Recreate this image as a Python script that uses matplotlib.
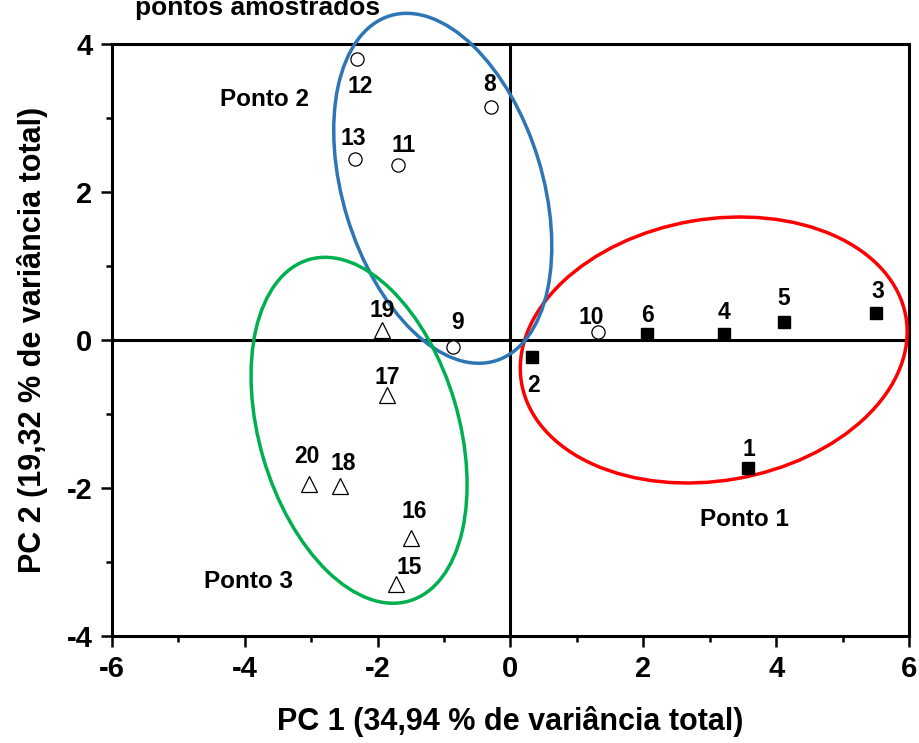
import matplotlib
matplotlib.use("Agg")
import matplotlib.pyplot as plt
from matplotlib.patches import Ellipse
from matplotlib.transforms import ScaledTranslation
from matplotlib.ticker import MultipleLocator

# ---------------- data ----------------
ponto1_ids = [1, 2, 3, 4, 5, 6]
ponto1_pc1 = [3.57, 0.32, 5.50, 3.22, 4.12, 2.05]
ponto1_pc2 = [-1.73, -0.23, 0.37, 0.08, 0.24, 0.08]

ponto2_ids = [8, 9, 10, 11, 12, 13]
ponto2_pc1 = [-0.30, -0.86, 1.31, -1.70, -2.31, -2.34]
ponto2_pc2 = [3.15, -0.09, 0.11, 2.37, 3.80, 2.44]

ponto3_ids = [15, 16, 17, 18, 19, 20]
ponto3_pc1 = [-1.73, -1.50, -1.86, -2.57, -1.93, -3.03]
ponto3_pc2 = [-3.30, -2.68, -0.74, -1.97, 0.135, -1.94]

x_ticks = [-6, -4, -2, 0, 2, 4, 6]
y_ticks = [-4, -2, 0, 2, 4]

# label offsets (image pixels: dx right, dy down)
label_off = {1: (1, -21), 2: (2, 26), 3: (2, -24), 4: (0, -24), 5: (0, -26),
             6: (1, -21), 8: (-1, -25), 9: (4, -27), 10: (-6, -17), 11: (6, -22),
             12: (3, 25), 13: (-2, -23), 15: (14, -19), 16: (3, -29), 17: (0, -20),
             18: (3, -25), 19: (0, -22), 20: (-2, -30)}

plt.rcParams['font.family'] = ['Liberation Sans', 'DejaVu Sans']
plt.rcParams['font.weight'] = 'bold'

W, H, DPI = 920, 743, 100
fig = plt.figure(figsize=(W / DPI, H / DPI), dpi=DPI)
L, R, T, B = 112, 909, 44, 636
ax = fig.add_axes([L / W, (H - B) / H, (R - L) / W, (B - T) / H])

ax.set_xlim(-6, 6)
ax.set_ylim(-4, 4)

# zero lines
ax.axhline(0, color='black', lw=2.2, zorder=1)
ax.axvline(0, color='black', lw=2.2, zorder=1)

# markers
ax.plot(ponto1_pc1, ponto1_pc2, 's', ms=9, color='black', zorder=4)
ax.plot(ponto2_pc1, ponto2_pc2, 'o', ms=9.5, mfc='white', mec='black', mew=0.9, zorder=4)
ax.plot(ponto3_pc1, ponto3_pc2, '^', ms=11, mfc='white', mec='black', mew=0.9, zorder=4)

for ids, xs, ys in [(ponto1_ids, ponto1_pc1, ponto1_pc2),
                    (ponto2_ids, ponto2_pc1, ponto2_pc2),
                    (ponto3_ids, ponto3_pc1, ponto3_pc2)]:
    for i, x, y in zip(ids, xs, ys):
        dx, dy = label_off[i]
        ax.annotate(str(i), (x, y), xytext=(dx, -dy), textcoords='offset pixels',
                    ha='center', va='center_baseline', fontsize=16.5,
                    fontweight='bold', zorder=5)

# ellipses: center in data, semi-axes in pixels, angle in screen degrees
def draw_ellipse(cx, cy, a_px, b_px, ang, color):
    tr = fig.dpi_scale_trans + ScaledTranslation(cx, cy, ax.transData)
    e = Ellipse((0, 0), 2 * a_px / DPI, 2 * b_px / DPI, angle=ang, transform=tr,
                fill=False, edgecolor=color, lw=2.5, clip_on=False, zorder=3)
    ax.add_patch(e)

draw_ellipse(3.06, -0.135, 195, 130.7, 9.8, '#FF0000')
draw_ellipse(-1.02, 2.05, 180.4, 99.8, 107.0, '#2E75B6')
draw_ellipse(-2.28, -1.22, 177.9, 99.7, 106.4, '#00B050')

# group labels
ax.text(3.52, -2.52, 'Ponto 1', ha='center', va='baseline', fontsize=17.5, fontweight='bold')
ax.text(-3.71, 3.16, 'Ponto 2', ha='center', va='baseline', fontsize=17.5, fontweight='bold')
ax.text(-3.95, -3.35, 'Ponto 3', ha='center', va='baseline', fontsize=17.5, fontweight='bold')

# ticks / spines
ax.set_xticks(x_ticks)
ax.set_yticks(y_ticks)
ax.set_xticklabels([str(t) for t in x_ticks])
ax.set_yticklabels([str(t) for t in y_ticks])
ax.xaxis.set_minor_locator(MultipleLocator(1))
ax.yaxis.set_minor_locator(MultipleLocator(1))
ax.tick_params(which='major', direction='out', length=8, width=1.8, labelsize=21, pad=6)
ax.tick_params(which='minor', direction='out', length=4.5, width=1.8)
ax.tick_params(top=False, right=False, which='both')
for s in ax.spines.values():
    s.set_linewidth(2.2)

ax.set_xlabel('PC 1 (34,94 % de variância total)', fontsize=22, fontweight='bold')
ax.set_ylabel('PC 2 (19,32 % de variância total)', fontsize=22, fontweight='bold')
ax.xaxis.set_label_coords(0.5, -0.118)
ax.yaxis.set_label_coords(-0.08, 0.5)

fig.text(135 / W, 1 - 15 / H, 'pontos amostrados', ha='left', va='baseline',
         fontsize=19, fontweight='bold')

fig.savefig('out.png', dpi=DPI)
